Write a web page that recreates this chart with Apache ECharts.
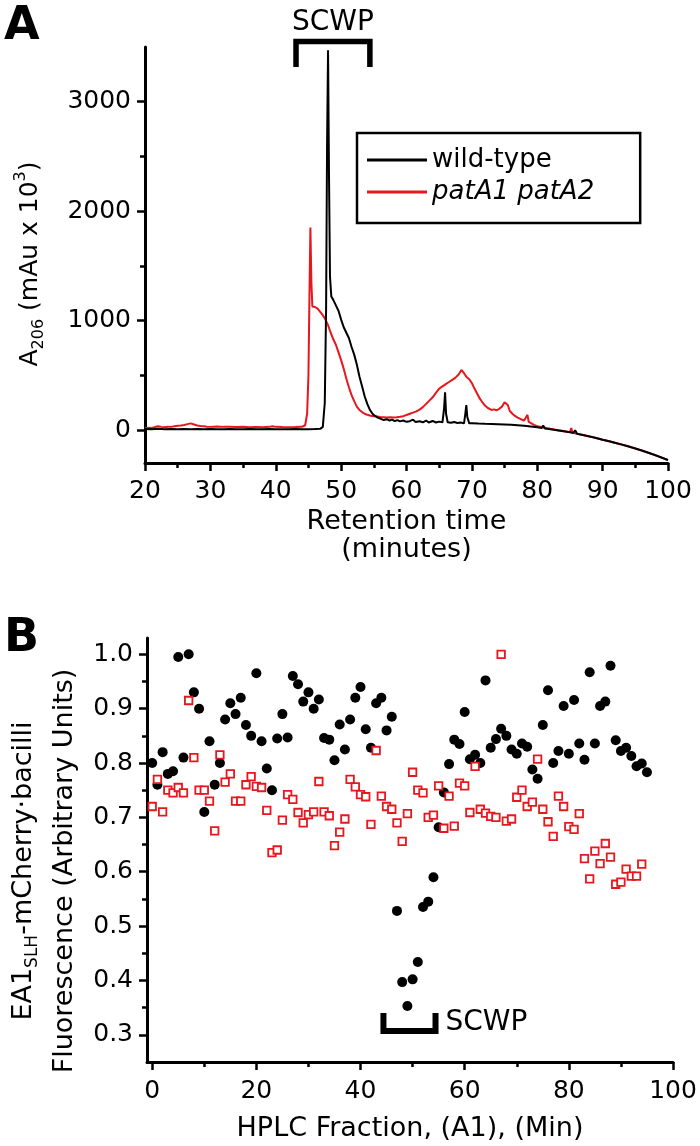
<!DOCTYPE html>
<html>
<head>
<meta charset="utf-8">
<script src="https://cdn.jsdelivr.net/npm/echarts@6/dist/echarts.min.js"></script>
<style>html,body{margin:0;padding:0;background:#fff}#c{width:700px;height:1146px}</style>
</head>
<body>
<div id="c"></div>
<script>
// ---------- Panel A: chromatograms [retention time (min), A206] ----------
const wildTypeTrace = [[20,10],[21,8],[22,12],[23,9],[24,10],[25,8],[26,10],[27,9],[28,11],[29,8],[30,10],[31,9],[32,8],[33,10],[34,9],[35,8],[36,10],[37,9],[38,8],[39,10],[40,9],[41,8],[42,9],[43,10],[44,8],[45,9],[46,10],[46.8,12],[47.2,30],[47.5,250],[47.7,1100],[47.85,2600],[48.0,3470],[48.15,2300],[48.3,1400],[48.5,1220],[48.8,1190],[49.2,1140],[49.6,1090],[50,1010],[50.4,940],[50.8,890],[51.2,840],[51.6,760],[52,690],[52.4,600],[52.8,490],[53.2,400],[53.6,310],[54,240],[54.4,185],[54.8,150],[55.2,130],[55.6,115],[56,105],[56.5,92],[57,100],[57.4,88],[57.8,96],[58.2,82],[58.6,92],[59,80],[59.5,88],[60,76],[60.5,82],[61,96],[61.4,74],[62,82],[62.5,72],[63,88],[63.4,70],[64,84],[64.5,70],[65,78],[65.5,72],[65.75,200],[65.9,345],[66.05,150],[66.3,72],[66.8,68],[67.3,74],[67.8,66],[68.3,70],[68.8,62],[69.0,150],[69.15,228],[69.3,120],[69.6,62],[70,64],[71,60],[72,58],[73,57],[74,55],[75,52],[76,49],[77,45],[78,40],[79,33],[80,26],[80.7,20],[80.9,42],[81.2,14],[82,8],[83,0],[84,-10],[85,-20],[85.5,-26],[85.8,-2],[86.1,-32],[87,-44],[88,-57],[89,-71],[90,-87],[91,-102],[92,-117],[93,-132],[94,-149],[95,-167],[96,-186],[97,-206],[98,-227],[99,-250],[100,-273]];

const mutantTrace = [[20,18],[20.5,22],[21,20],[21.5,28],[22,35],[22.5,30],[23,26],[23.5,32],[24,30],[24.5,36],[25,40],[25.5,42],[26,48],[26.5,55],[27,62],[27.5,52],[28,42],[28.5,38],[29,35],[29.5,32],[30,30],[31,34],[32,30],[33,31],[34,28],[35,30],[36,27],[37,28],[38,27],[39,30],[39.5,36],[40,30],[41,28],[42,27],[43,28],[44,30],[44.5,45],[44.8,150],[45.0,500],[45.15,1200],[45.3,1850],[45.45,1350],[45.6,1130],[45.8,1120],[46.0,1125],[46.4,1110],[46.8,1080],[47.2,1050],[47.6,1010],[48,960],[48.4,890],[48.8,830],[49.2,780],[49.6,710],[50,640],[50.4,560],[50.8,470],[51.2,390],[51.6,320],[52,265],[52.4,215],[52.8,185],[53.2,165],[53.6,150],[54,140],[54.5,132],[55,128],[55.5,124],[56,120],[56.5,118],[57,116],[57.5,118],[58,115],[58.5,118],[59,122],[59.5,128],[60,138],[60.5,150],[61,160],[61.5,172],[62,188],[62.5,210],[63,240],[63.5,270],[64,300],[64.5,340],[65,380],[65.5,400],[66,420],[66.5,440],[67,460],[67.5,480],[68,510],[68.4,550],[68.8,520],[69.2,485],[69.6,465],[70,430],[70.4,380],[70.8,335],[71.2,290],[71.6,255],[72,225],[72.5,200],[73,185],[73.4,190],[73.8,182],[74.2,195],[74.6,215],[75,255],[75.2,272],[75.5,230],[75.8,175],[76.2,150],[76.6,130],[77,115],[77.5,100],[78,88],[78.3,85],[78.5,140],[78.7,75],[79,60],[79.5,48],[80,36],[81,24],[82,12],[83,2],[84,-8],[85,-18],[85.2,20],[85.4,-22],[86,-34],[87,-45],[88,-58],[89,-72],[90,-88],[91,-102],[92,-118],[93,-133],[94,-150],[95,-168],[96,-187],[97,-207],[98,-228],[99,-251],[100,-274]];

const ticksAY = [0,1000,2000,3000];
const minorAY = [500,1500,2500];

// ---------- Panel B: fluorescence per HPLC fraction ----------
const fractions = [0,1,2,3,4,5,6,7,8,9,10,11,12,13,14,15,16,17,18,19,20,21,22,23,24,25,26,27,28,29,30,31,32,33,34,35,36,37,38,39,40,41,42,43,44,45,46,47,48,49,50,51,52,53,54,55,56,57,58,59,60,61,62,63,64,65,66,67,68,69,70,71,72,73,74,75,76,77,78,79,80,81,82,83,84,85,86,87,88,89,90,91,92,93,94,95];

const wildTypeFluor = [0.80,0.76,0.82,0.78,0.785,0.995,0.81,1.00,0.93,0.90,0.71,0.84,0.76,0.80,0.88,0.91,0.89,0.92,0.87,0.85,0.965,0.84,0.79,0.75,0.845,0.89,0.847,0.96,0.945,0.913,0.93,0.90,0.917,0.846,0.843,0.805,0.871,0.825,0.88,0.92,0.94,0.862,0.828,0.91,0.92,0.86,0.885,0.528,0.397,0.353,0.402,0.434,0.535,0.545,0.59,0.682,0.746,0.798,0.843,0.835,0.894,0.807,0.815,0.80,0.952,0.828,0.844,0.863,0.85,0.825,0.817,0.836,0.83,0.788,0.771,0.87,0.934,0.80,0.822,0.905,0.817,0.916,0.836,0.806,0.967,0.836,0.905,0.913,0.979,0.842,0.822,0.828,0.813,0.794,0.799,0.783];

const mutantFluor = [0.72,0.77,0.71,0.75,0.745,0.755,0.745,0.915,0.81,0.75,0.75,0.73,0.675,0.815,0.765,0.78,0.73,0.73,0.76,0.775,0.757,0.755,0.713,0.635,0.64,0.695,0.742,0.733,0.709,0.69,0.705,0.71,0.766,0.71,0.703,0.648,0.673,0.697,0.77,0.756,0.742,0.738,0.687,0.823,0.739,0.72,0.715,0.69,0.656,0.707,0.783,0.75,0.745,0.70,0.704,0.758,0.68,0.739,0.684,0.763,0.758,0.709,0.794,0.715,0.708,0.702,0.70,1.00,0.693,0.697,0.737,0.75,0.72,0.728,0.807,0.715,0.692,0.665,0.739,0.72,0.683,0.678,0.707,0.624,0.587,0.638,0.615,0.652,0.627,0.577,0.581,0.605,0.592,0.592,0.614];

const ticksBX = [0,20,40,60,80,100];
const minorBX = [10,30,50,70,90];
const ticksBY = [0.3,0.4,0.5,0.6,0.7,0.8,0.9,1.0];
const minorBY = [0.35,0.45,0.55,0.65,0.75,0.85,0.95];

// SCWP bracket annotations in data units
const scwpA = {x0: 43.1, x1: 54.4, yBar: 3550, yLeg: 3318, textX: 48.75, textY: 3720};
const scwpB = {x0: 44.4, x1: 54.4, yBar: 0.307, yLeg: 0.34, textX: 56.3, textY: 0.322};

const F = 'DejaVu Sans';
const RED = '#e8161d';
const chart = echarts.init(document.getElementById('c'), null, {renderer: 'canvas'});

function axisBase(extra) {
  return Object.assign({
    type: 'value',
    axisLine: {show: true, onZero: false, lineStyle: {color: '#000', width: 3}},
    axisTick: {show: true, length: 8, lineStyle: {color: '#000', width: 2.5}},
    axisLabel: {color: '#000', fontSize: 25, fontFamily: F, margin: 16},
    splitLine: {show: false},
    nameMoveOverlap: false
  }, extra);
}

const pts = (xs, ys) => ys.map((v, i) => [xs[i], v]);

const option = {
  animation: false,
  backgroundColor: '#fff',
  textStyle: {fontFamily: F},
  grid: [
    {left: 145, top: 47, width: 523, height: 416, outerBoundsMode: 'none'},
    {left: 147, top: 638, width: 526, height: 424, outerBoundsMode: 'none'}
  ],
  xAxis: [
    axisBase({gridIndex: 0, position: 'bottom', min: 20, max: 100, interval: 10,
      minorTick: {show: true, splitNumber: 2, length: 5, lineStyle: {color: '#000', width: 2.5}},
      minorSplitLine: {show: false},
      name: 'Retention time\n(minutes)', nameLocation: 'middle', nameGap: 45,
      nameTextStyle: {color: '#000', fontSize: 27, lineHeight: 28, fontFamily: F}}),
    axisBase({gridIndex: 1, position: 'bottom', min: -1, max: 100,
      axisTick: {show: true, length: 8, customValues: ticksBX, lineStyle: {color: '#000', width: 2.5}},
      axisLabel: {color: '#000', fontSize: 25, fontFamily: F, margin: 17, customValues: ticksBX},
      name: 'HPLC Fraction, (A1), (Min)', nameLocation: 'middle', nameGap: 53,
      nameTextStyle: {color: '#000', fontSize: 27, fontFamily: F}}),
    axisBase({gridIndex: 1, position: 'bottom', min: -1, max: 100, axisLine: {show: false, onZero: false},
      axisTick: {show: true, length: 5, customValues: minorBX, lineStyle: {color: '#000', width: 2.5}},
      axisLabel: {show: false}})
  ],
  yAxis: [
    axisBase({gridIndex: 0, position: 'left', min: -300, max: 3500,
      axisTick: {show: true, length: 8, customValues: ticksAY, lineStyle: {color: '#000', width: 2.5}},
      axisLabel: {color: '#000', fontSize: 25, fontFamily: F, margin: 14, customValues: ticksAY,
        formatter: v => String(v)},
      name: '{b|A}{s|206}{b| (mAu x 10}{p|3}{b|)}', nameLocation: 'middle', nameGap: 98,
      nameTextStyle: {color: '#000', fontFamily: F, padding: [0, 18, 0, 0],
        rich: {
          b: {fontSize: 25, fontFamily: F, color: '#000', verticalAlign: 'middle', lineHeight: 34},
          s: {fontSize: 16, fontFamily: F, color: '#000', verticalAlign: 'bottom', lineHeight: 34},
          p: {fontSize: 16, fontFamily: F, color: '#000', verticalAlign: 'top', lineHeight: 34}
        }}}),
    axisBase({gridIndex: 0, position: 'left', min: -300, max: 3500, axisLine: {show: false, onZero: false},
      axisTick: {show: true, length: 5, customValues: minorAY, lineStyle: {color: '#000', width: 2.5}},
      axisLabel: {show: false}}),
    axisBase({gridIndex: 1, position: 'left', min: 0.25, max: 1.03,
      axisTick: {show: true, length: 8, customValues: ticksBY, lineStyle: {color: '#000', width: 2.5}},
      axisLabel: {color: '#000', fontSize: 25, fontFamily: F, margin: 14, customValues: ticksBY,
        formatter: v => v.toFixed(1)},
      name: '{b|EA1}{s|SLH}{b|-mCherry·bacilli}\n{b|Fluorescence (Arbitrary Units)}',
      nameLocation: 'middle', nameGap: 62,
      nameTextStyle: {color: '#000', fontFamily: F, padding: [0, 42, 0, 0],
        rich: {
          b: {fontSize: 27, fontFamily: F, color: '#000', verticalAlign: 'middle', lineHeight: 41},
          s: {fontSize: 17, fontFamily: F, color: '#000', verticalAlign: 'bottom', lineHeight: 41, padding: [0, 0, 3, 0]}
        }}}),
    axisBase({gridIndex: 1, position: 'left', min: 0.25, max: 1.03, axisLine: {show: false, onZero: false},
      axisTick: {show: true, length: 5, customValues: minorBY, lineStyle: {color: '#000', width: 2.5}},
      axisLabel: {show: false}})
  ],
  legend: {
    left: 357, top: 133, orient: 'vertical',
    data: [{name: 'wild-type'}, {name: 'patA1 patA2', textStyle: {fontStyle: 'italic'}}],
    icon: 'rect',
    itemWidth: 60, itemHeight: 3, itemGap: 6, itemTextGap: 8,
    padding: [14, 46, 18, 10],
    borderColor: '#000', borderWidth: 2.5, borderRadius: 0,
    textStyle: {color: '#000', fontSize: 26, fontFamily: F},
    selectedMode: false
  },
  series: [
    {name: 'patA1 patA2', type: 'line', xAxisIndex: 0, yAxisIndex: 0, data: mutantTrace,
      symbol: 'none', showSymbol: false, color: RED, lineStyle: {color: RED, width: 2}, z: 2},
    {name: 'wild-type', type: 'line', xAxisIndex: 0, yAxisIndex: 0, data: wildTypeTrace,
      symbol: 'none', showSymbol: false, color: '#000', lineStyle: {color: '#000', width: 2}, z: 3},
    {name: 'B wild-type', type: 'scatter', xAxisIndex: 1, yAxisIndex: 2,
      data: pts(fractions, wildTypeFluor), symbol: 'circle', symbolSize: 10,
      itemStyle: {color: '#000', opacity: 1}, z: 3},
    {name: 'B patA1 patA2', type: 'scatter', xAxisIndex: 1, yAxisIndex: 2,
      data: pts(fractions, mutantFluor), symbol: 'rect', symbolSize: 7.5,
      itemStyle: {color: '#fff', borderColor: RED, borderWidth: 1.8, opacity: 1}, z: 4}
  ]
};

chart.setOption(option);

function bracket(gridIndex, b, lw) {
  const p0 = chart.convertToPixel({gridIndex}, [b.x0, b.yLeg]);
  const p1 = chart.convertToPixel({gridIndex}, [b.x0, b.yBar]);
  const p2 = chart.convertToPixel({gridIndex}, [b.x1, b.yBar]);
  const p3 = chart.convertToPixel({gridIndex}, [b.x1, b.yLeg]);
  return {type: 'polyline', shape: {points: [p0, p1, p2, p3]},
    style: {stroke: '#000', lineWidth: lw, fill: null, lineJoin: 'miter', lineCap: 'butt'}, z: 10};
}
const tA = chart.convertToPixel({gridIndex: 0}, [scwpA.textX, scwpA.textY]);
const tB = chart.convertToPixel({gridIndex: 1}, [scwpB.textX, scwpB.textY]);

chart.setOption({
  graphic: [
    {type: 'text', left: 4, top: 4, style: {text: 'A', font: 'bold 46px "DejaVu Sans"', fill: '#000'}},
    {type: 'text', left: 4, top: 616, style: {text: 'B', font: 'bold 46px "DejaVu Sans"', fill: '#000'}},
    bracket(0, scwpA, 5.5),
    bracket(1, scwpB, 6),
    {type: 'text', x: tA[0], y: tA[1], style: {text: 'SCWP', font: '28px "DejaVu Sans"', fill: '#000',
      align: 'center', verticalAlign: 'middle', textAlign: 'center', textVerticalAlign: 'middle'}, z: 10},
    {type: 'text', x: tB[0], y: tB[1], style: {text: 'SCWP', font: '28px "DejaVu Sans"', fill: '#000',
      align: 'left', verticalAlign: 'middle', textAlign: 'left', textVerticalAlign: 'middle'}, z: 10}
  ]
});
</script>
</body>
</html>
